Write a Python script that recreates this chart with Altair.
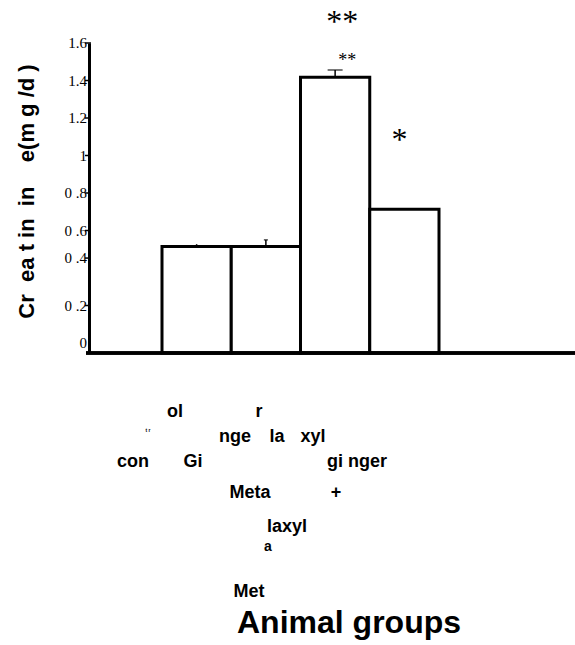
import altair as alt
import pandas as pd

# ---- data ----
groups = ["control", "Ginger", "Metalaxyl", "Metalaxyl + ginger"]
creatinine = [0.515, 0.515, 1.417, 0.713]
err = [0.012, 0.035, 0.039, 0.0]

y_ticks = [0, 0.2, 0.4, 0.6, 0.8, 1.0, 1.2, 1.4, 1.6]
y_tick_labels = ["0", "0 .2", "0 .4", "0 .6", "0 .8", "1", "1.2", "1.4", "1.6"]
y_min, y_max = -0.0533, 1.6

big_sig_text = ["**"]
big_sig_group = ["Metalaxyl"]
big_sig_y = [1.712]
single_sig_text = ["*"]
single_sig_group = ["Metalaxyl + ginger"]
single_sig_y = [1.083]
small_sig_text = ["**"]
small_sig_group = ["Metalaxyl"]
small_sig_y = [1.504]

# scattered fragments of the category labels, as they appear (page coords)
frag_text = ["ol", "r", "t r", "nge", "la", "xyl", "con", "Gi", "gi nger",
             "Meta", "+", "laxyl", "a", "Met"]
frag_x = [175, 259, 148, 235, 277, 313, 133, 193, 357, 250, 336, 287, 268, 249]
frag_y = [412, 412, 430, 437, 437, 437, 462, 462, 462, 493, 493, 527, 547, 592]
frag_size = [18, 18, 5, 18, 18, 18, 18, 18, 18, 18, 18, 18, 14, 18]

x_title = "Animal groups"
NB = "\u00a0"
y_title = ("Cr" + NB * 2 + "ea" + NB + "t" + NB + "in" + NB * 2 + "in" + NB * 4
           + "e(m" + NB + "g" + NB + "/d" + NB + ")")

# ---- layout ----
LEFT, TOP, W, H = 89, 43, 483, 310
PAGE_W, PAGE_H = 575, 645

bars = pd.DataFrame({"group": groups, "value": creatinine, "err": err})
bars["top"] = bars["value"] + bars["err"]
ticks = pd.DataFrame({"v": y_ticks, "lab": y_tick_labels})

xs = alt.Scale(domain=groups, range=[73, 350], paddingInner=0, paddingOuter=0)
ys = alt.Scale(domain=[y_min, y_max], nice=False, zero=False)

y_axis = alt.Axis(
    labels=False, ticks=False, grid=False,
    domainColor="black", domainWidth=3,
    title=y_title, titleFont="Liberation Sans", titleFontSize=22, titleFontWeight="bold",
    titleColor="black", titleX=-63, titleY=148, titleBaseline="middle", titleAngle=270,
)

base = alt.Chart(bars)
X = alt.X("group:N", scale=xs, axis=None, sort=groups)

bar_layer = base.mark_bar(fill="white", stroke="black", strokeWidth=3).encode(
    x=X,
    y=alt.Y("value:Q", scale=ys, axis=y_axis),
    y2=alt.Y2(datum=y_min),
)

whisker = base.transform_filter("datum.err > 0").mark_rule(color="black", strokeWidth=1.5).encode(
    x=X,
    y=alt.Y("value:Q", scale=ys),
    y2="top:Q",
)

caps = base.transform_filter("datum.err > 0.02").mark_tick(color="black", thickness=1.5, orient="horizontal").encode(
    x=X,
    y=alt.Y("top:Q", scale=ys),
    size=alt.condition("datum.err > 0.037", alt.value(15), alt.value(4)),
)

baseline = base.mark_rule(color="black", strokeWidth=3).encode(
    y=alt.Y(datum=y_min, scale=ys),
    x=alt.value(-3),
    x2=alt.value(PAGE_W - LEFT),
)

# tick labels and ticks of the value axis (the 0.4 one sits a little high in the original)
tick_base = alt.Chart(ticks).transform_calculate(
    pos="datum.v + (abs(datum.v - 0.4) < 0.01 ? 0.053 : 0)"
)
tick_labels = tick_base.mark_text(
    font="Liberation Serif", fontSize=15, color="black", align="right", baseline="middle"
).encode(
    x=alt.value(-2),
    y=alt.Y("pos:Q", scale=ys),
    text="lab:N",
)
tick_marks = tick_base.transform_filter("datum.v > 0").mark_rule(color="black", strokeWidth=1.5).encode(
    x=alt.value(-4),
    x2=alt.value(2),
    y=alt.Y("pos:Q", scale=ys),
)


def sig_layer(texts, grps, yv, size, dx):
    return alt.Chart(pd.DataFrame({"t": texts, "group": grps, "y": yv})).mark_text(
        font="Liberation Serif", fontSize=size, color="black", baseline="middle", dx=dx
    ).encode(x=X, y=alt.Y("y:Q", scale=ys), text="t:N")


big_sig = sig_layer(big_sig_text, big_sig_group, big_sig_y, 32, 7)
single_sig = sig_layer(single_sig_text, single_sig_group, single_sig_y, 32, -5)
small_sig = sig_layer(small_sig_text, small_sig_group, small_sig_y, 18, 12)

frags = pd.DataFrame({"t": frag_text, "px": [v - LEFT for v in frag_x],
                      "py": [v - TOP for v in frag_y], "fs": frag_size})
frag_layer = alt.Chart(frags).mark_text(
    font="Liberation Sans", fontWeight="bold", color="black", baseline="middle", align="center"
).encode(
    x=alt.X("px:Q", scale=None, axis=None),
    y=alt.Y("py:Q", scale=None, axis=None),
    size=alt.Size("fs:Q", scale=None, legend=None),
    text="t:N",
)

xtitle_layer = alt.Chart(pd.DataFrame({"t": [x_title]})).mark_text(
    font="Liberation Sans", fontWeight="bold", fontSize=32, color="black",
    baseline="alphabetic", align="center"
).encode(
    x=alt.value(349 - LEFT),
    y=alt.value(633 - TOP),
    text="t:N",
)

chart = alt.layer(
    bar_layer, whisker, caps, baseline, tick_marks, tick_labels,
    big_sig, single_sig, small_sig, frag_layer, xtitle_layer
).properties(
    width=W, height=H,
    background="white",
    autosize=alt.AutoSizeParams(type="none"),
    padding={"left": LEFT, "top": TOP, "right": PAGE_W - LEFT - W, "bottom": PAGE_H - TOP - H},
).configure_view(stroke=None)

chart.save("out.html", embed_options={"renderer": "svg", "actions": False})
